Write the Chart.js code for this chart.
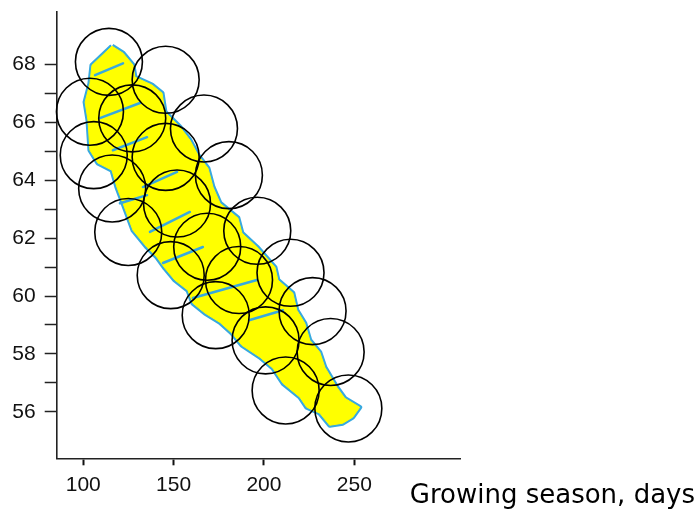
<!DOCTYPE html>
<html>
<head>
<meta charset="utf-8">
<script src="https://cdn.jsdelivr.net/npm/chart.js@4.4.1/dist/chart.umd.min.js"></script>
<style>
  html, body { margin: 0; padding: 0; background: #fff; }
  #wrap { width: 700px; height: 511px; }
</style>
</head>
<body>
<div id="wrap"><canvas id="chart" width="700" height="511"></canvas></div>
<script>
// Кружки: длина вегетационного периода (дни) / значение по оси Y
const circleX = [114.2, 145.6, 103.7, 127.1, 166.8, 105.8, 145.6, 180.6, 116.0, 151.9, 124.9,
                 168.6, 148.4, 196.3, 186.2, 173.3, 214.7, 200.9, 226.9, 236.9, 212.0, 246.7];
const circleY = [68.08, 67.46, 66.36, 66.13, 65.78, 64.86, 64.80, 64.17, 63.71, 63.19, 62.21,
                 61.70, 60.72, 62.25, 60.55, 59.34, 60.80, 58.47, 59.48, 58.07, 56.74, 56.12];

// Контур жёлтой выделенной полосы
const bandX = [115.9, 122.0, 127.5, 128.6, 138.0, 143.6, 145.2, 153.5, 159.0, 163.5,
               169.0, 171.8, 175.7, 185.6, 187.8, 196.1, 206.1, 207.7, 216.0, 218.2,
               222.6, 225.4, 230.9, 233.7, 240.3, 244.7, 253.0, 249.1, 243.6, 236.4,
               230.9, 223.7, 219.9, 210.5, 205.0, 197.8, 187.8, 182.3, 175.7, 167.4,
               160.7, 157.9, 150.7, 145.2, 140.8, 135.3, 127.5, 122.0, 118.6, 115.9,
               108.1, 103.7, 102.6, 101.0, 103.7, 104.8, 115.9];
const bandY = [68.62, 68.38, 67.97, 67.55, 67.28, 67.00, 66.35, 65.83, 65.38, 64.86,
               64.41, 63.76, 63.20, 62.69, 62.17, 61.69, 60.99, 60.55, 60.10, 59.51,
               59.06, 58.47, 58.06, 57.54, 56.85, 56.47, 56.16, 55.82, 55.61, 55.54,
               55.96, 56.16, 56.51, 56.99, 57.51, 57.89, 58.30, 58.72, 59.09, 59.41,
               59.75, 60.20, 60.55, 60.96, 61.34, 61.68, 62.27, 63.20, 63.76, 64.34,
               64.59, 65.03, 66.07, 66.69, 67.34, 67.96, 68.62];

// Синие штрихи внутри полосы: [x0, y0, x1, y1]
const streaks = [
    [106.5, 67.62, 122.0, 68.03],
    [109.2, 66.14, 131.4, 66.66],
    [116.4, 65.03, 135.3, 65.48],
    [133.0, 63.76, 151.9, 64.28],
    [120.3, 63.20, 135.3, 63.48],
    [136.9, 62.21, 159.0, 62.90],
    [144.1, 61.14, 166.2, 61.69],
    [160.7, 59.93, 196.1, 60.55],
    [192.2, 59.17, 210.5, 59.51]
];

// Деления осей
const xTicks = [100, 150, 200, 250];
const yTicks = [56, 57, 58, 59, 60, 61, 62, 63, 64, 65, 66, 67, 68];
const yTickLabels = ['56', '', '58', '', '60', '', '62', '', '64', '', '66', '', '68'];
const xTitle = 'Growing season, days';

const toPoints = (xs, ys) => xs.map((x, i) => ({ x: x, y: ys[i] }));

const bandPoints = toPoints(bandX, bandY);

const datasets = [];

// Кружки сверху
datasets.push({
    label: 'circles',
    data: toPoints(circleX, circleY),
    showLine: false,
    pointRadius: 33.5,
    pointHoverRadius: 33.5,
    pointBorderWidth: 1.6,
    pointBorderColor: '#000',
    pointBackgroundColor: 'rgba(0,0,0,0)',
    clip: false,
    order: 0
});

// Штрихи
streaks.forEach((s, i) => {
    datasets.push({
        label: 'streak' + i,
        data: [{ x: s[0], y: s[1] }, { x: s[2], y: s[3] }],
        borderColor: '#38a9df',
        borderWidth: 2.5,
        borderCapStyle: 'round',
        pointRadius: 0,
        fill: false,
        order: 1
    });
});

// Жёлтая полоса
datasets.push({
    label: 'band',
    data: bandPoints,
    borderColor: '#ffff00',
    borderWidth: 1,
    backgroundColor: '#ffff00',
    fill: 'shape',
    pointRadius: 0,
    order: 2
});

// Синяя кромка под полосой
datasets.push({
    label: 'bandEdge',
    data: bandPoints,
    borderColor: '#38a9df',
    borderWidth: 5,
    borderJoinStyle: 'round',
    backgroundColor: '#38a9df',
    fill: 'shape',
    pointRadius: 0,
    order: 3
});

// Подпись оси X справа внизу
const axisTitlePlugin = {
    id: 'axisTitle',
    afterDraw(chart) {
        const ctx = chart.ctx;
        ctx.save();
        ctx.font = '26px "Comic Sans MS", "DejaVu Sans", sans-serif';
        ctx.fillStyle = '#000';
        ctx.textAlign = 'right';
        ctx.textBaseline = 'alphabetic';
        ctx.fillText(xTitle, 695, 503);
        ctx.restore();
    }
};

const tickFont = { family: '"Liberation Sans", Arial, sans-serif', size: 21 };

const ctx = document.getElementById('chart').getContext('2d');
new Chart(ctx, {
    type: 'line',
    data: { datasets: datasets },
    options: {
        responsive: false,
        animation: false,
        events: [],
        layout: {
            autoPadding: false,
            padding: { left: 0, right: 240, top: 12, bottom: 0 }
        },
        plugins: {
            legend: { display: false },
            tooltip: { enabled: false }
        },
        scales: {
            x: {
                type: 'linear',
                min: 85.3,
                max: 308.5,
                afterBuildTicks(scale) {
                    scale.ticks = xTicks.map(v => ({ value: v }));
                },
                afterFit(scale) {
                    scale.height = 52.7;
                    scale.paddingLeft = 0;
                    scale.paddingRight = 0;
                },
                ticks: {
                    autoSkip: false,
                    maxRotation: 0,
                    font: tickFont,
                    color: '#111',
                    padding: 7,
                    callback: v => String(v)
                },
                grid: {
                    drawOnChartArea: false,
                    drawTicks: true,
                    tickLength: 7,
                    tickWidth: 2,
                    tickColor: '#111'
                },
                border: { display: true, color: '#222', width: 1.6 }
            },
            y: {
                type: 'linear',
                min: 54.4,
                max: 69.8,
                afterBuildTicks(scale) {
                    scale.ticks = yTicks.map(v => ({ value: v }));
                },
                afterFit(scale) {
                    scale.width = 56.7;
                    scale.paddingTop = 0;
                    scale.paddingBottom = 0;
                },
                ticks: {
                    autoSkip: false,
                    font: tickFont,
                    color: '#111',
                    padding: 9,
                    callback: v => {
                        const i = yTicks.indexOf(v);
                        return i >= 0 ? yTickLabels[i] : '';
                    }
                },
                grid: {
                    drawOnChartArea: false,
                    drawTicks: true,
                    tickLength: 12,
                    tickWidth: 1.5,
                    tickColor: '#222'
                },
                border: { display: true, color: '#222', width: 1.6 }
            }
        }
    },
    plugins: [axisTitlePlugin]
});
</script>
</body>
</html>
